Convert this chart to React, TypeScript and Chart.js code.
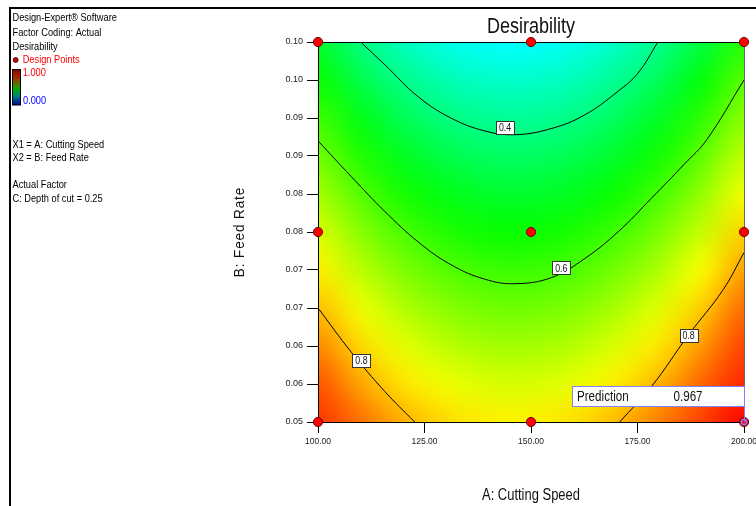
import React, { useEffect, useRef } from 'react';
import { Chart, registerables } from 'chart.js';

Chart.register(...registerables);

// ---------- data ----------
// Response-surface grid (A: Cutting Speed, B: Feed Rate)
const gridCuttingSpeed = [100, 110, 120, 130, 140, 150, 160, 170, 180, 190, 200];
const gridFeedRate = [0.05, 0.055, 0.06, 0.065, 0.07, 0.075, 0.08, 0.085, 0.09, 0.095, 0.1];
// Estimated desirability per feed-rate row (columns follow gridCuttingSpeed)
const dB050 = [0.923, 0.874, 0.819, 0.783, 0.763, 0.761, 0.777, 0.811, 0.862, 0.915, 0.967];
const dB055 = [0.900, 0.828, 0.773, 0.737, 0.717, 0.715, 0.731, 0.765, 0.816, 0.884, 0.936];
const dB060 = [0.854, 0.782, 0.727, 0.691, 0.671, 0.669, 0.685, 0.719, 0.770, 0.838, 0.913];
const dB065 = [0.808, 0.736, 0.681, 0.645, 0.625, 0.623, 0.639, 0.673, 0.724, 0.792, 0.879];
const dB070 = [0.762, 0.690, 0.635, 0.599, 0.579, 0.577, 0.593, 0.627, 0.678, 0.746, 0.833];
const dB075 = [0.716, 0.644, 0.589, 0.553, 0.533, 0.531, 0.547, 0.581, 0.632, 0.700, 0.787];
const dB080 = [0.670, 0.598, 0.543, 0.507, 0.487, 0.485, 0.501, 0.535, 0.586, 0.654, 0.741];
const dB085 = [0.624, 0.552, 0.497, 0.461, 0.441, 0.439, 0.455, 0.489, 0.540, 0.608, 0.695];
const dB090 = [0.578, 0.506, 0.451, 0.415, 0.395, 0.393, 0.409, 0.443, 0.494, 0.562, 0.649];
const dB095 = [0.532, 0.460, 0.405, 0.369, 0.349, 0.347, 0.363, 0.397, 0.448, 0.516, 0.603];
const dB100 = [0.486, 0.414, 0.359, 0.323, 0.303, 0.301, 0.317, 0.351, 0.402, 0.470, 0.557];
const desirabilityRows = [dB050, dB055, dB060, dB065, dB070, dB075, dB080, dB085, dB090, dB095, dB100];

// Design points
const designA = [100, 150, 200, 100, 150, 200, 100, 150, 200];
const designB = [0.1, 0.1, 0.1, 0.075, 0.075, 0.075, 0.05, 0.05, 0.05];

// Contour lines
const c04A = [110.0, 115.7, 123.5, 131.2, 139.1, 146.2, 154.7, 162.6, 170.4, 175.1, 179.8];
const c04B = [0.1, 0.097, 0.0928, 0.09, 0.0883, 0.0878, 0.0886, 0.0904, 0.0935, 0.0959, 0.1];
const c06A = [100, 107.8, 115.7, 123.5, 131.2, 139.1, 146.2, 154.8, 162.6, 170.4, 178.2, 186.1, 191.2, 200];
const c06B = [0.087, 0.0823, 0.0777, 0.0737, 0.0707, 0.0688, 0.0682, 0.069, 0.0715, 0.075, 0.0794, 0.084, 0.0871, 0.095];
const c08LA = [100, 107.8, 115.7, 122.7];
const c08LB = [0.065, 0.0592, 0.054, 0.05];
const c08RA = [170.8, 178.2, 186.9, 195.1, 200];
const c08RB = [0.05, 0.0546, 0.0614, 0.0674, 0.0723];

// Contour labels
const contourLabelText = ['0.4', '0.6', '0.8', '0.8'];
const contourLabelA = [143.9, 157.1, 110.2, 187.0];
const contourLabelB = [0.0888, 0.0703, 0.0581, 0.0614];

// Prediction flag
const predictionA = 200;
const predictionB = 0.05;
const predictionLabel = 'Prediction';
const predictionValue = '0.967';

// Axes
const xTickValues = [100, 125, 150, 175, 200];
const xTickLabels = ['100.00', '125.00', '150.00', '175.00', '200.00'];
const yTickValues = [0.05, 0.055, 0.06, 0.065, 0.07, 0.075, 0.08, 0.085, 0.09, 0.095, 0.1];
const yTickLabels = ['0.05', '0.06', '0.06', '0.07', '0.07', '0.08', '0.08', '0.09', '0.09', '0.10', '0.10'];

const chartTitle = 'Desirability';
const xTitle = 'A: Cutting Speed';
const yTitle = 'B: Feed Rate';

const legendHeader = ['Design-Expert® Software', 'Factor Coding: Actual', 'Desirability'];
const legendPoints = 'Design Points';
const legendHigh = '1.000';
const legendLow = '0.000';
const legendFactors = ['X1 = A: Cutting Speed', 'X2 = B: Feed Rate'];
const legendActual = ['Actual Factor', 'C: Depth of cut = 0.25'];

// Colour map (desirability -> colour)
const colorStopValues = [0.08, 0.3, 0.525, 0.75, 0.97];
const colorStopRGB = [
  [0, 0, 255],
  [0, 255, 255],
  [0, 255, 0],
  [255, 255, 0],
  [255, 0, 0],
];

const FONT = '"Liberation Sans", Arial, sans-serif';

function colorFor(v: number): number[] {
  if (v <= colorStopValues[0]) return colorStopRGB[0];
  for (let i = 1; i < colorStopValues.length; i++) {
    if (v <= colorStopValues[i]) {
      const t = (v - colorStopValues[i - 1]) / (colorStopValues[i] - colorStopValues[i - 1]);
      const a = colorStopRGB[i - 1];
      const b = colorStopRGB[i];
      return [0, 1, 2].map((k) => Math.round(a[k] + (b[k] - a[k]) * t));
    }
  }
  return colorStopRGB[colorStopRGB.length - 1];
}

function txt(
  ctx: CanvasRenderingContext2D,
  s: string,
  x: number,
  y: number,
  size: number,
  color: string,
  align: CanvasTextAlign = 'left',
  sx = 1
) {
  ctx.save();
  ctx.translate(x, y);
  ctx.scale(sx, 1);
  ctx.font = `${size}px ${FONT}`;
  ctx.fillStyle = color;
  ctx.textAlign = align;
  ctx.textBaseline = 'alphabetic';
  ctx.fillText(s, 0, 0);
  ctx.restore();
}

const surfacePlugin = {
  id: 'surface',
  beforeDatasetsDraw(chart: any) {
    const { ctx, chartArea: ca, scales } = chart;
    const xs = scales.x;
    const ys = scales.y;
    const nA = gridCuttingSpeed.length;
    const nB = gridFeedRate.length;
    const off = document.createElement('canvas');
    off.width = nA;
    off.height = nB;
    const octx = off.getContext('2d')!;
    const img = octx.createImageData(nA, nB);
    for (let j = 0; j < nB; j++) {
      const row = nB - 1 - j;
      for (let i = 0; i < nA; i++) {
        const c = colorFor(desirabilityRows[j][i]);
        const k = (row * nA + i) * 4;
        img.data[k] = c[0];
        img.data[k + 1] = c[1];
        img.data[k + 2] = c[2];
        img.data[k + 3] = 255;
      }
    }
    octx.putImageData(img, 0, 0);
    const hA = (gridCuttingSpeed[1] - gridCuttingSpeed[0]) / 2;
    const hB = (gridFeedRate[1] - gridFeedRate[0]) / 2;
    const x0 = xs.getPixelForValue(gridCuttingSpeed[0] - hA);
    const x1 = xs.getPixelForValue(gridCuttingSpeed[nA - 1] + hA);
    const y0 = ys.getPixelForValue(gridFeedRate[nB - 1] + hB);
    const y1 = ys.getPixelForValue(gridFeedRate[0] - hB);
    ctx.save();
    ctx.beginPath();
    ctx.rect(ca.left, ca.top, ca.right - ca.left, ca.bottom - ca.top);
    ctx.clip();
    ctx.imageSmoothingEnabled = true;
    ctx.imageSmoothingQuality = 'high';
    ctx.drawImage(off, x0, y0, x1 - x0, y1 - y0);
    ctx.restore();

    // plot frame
    ctx.save();
    ctx.lineWidth = 1;
    ctx.strokeStyle = '#000';
    ctx.beginPath();
    ctx.moveTo(ca.left, ca.top + 0.5);
    ctx.lineTo(ca.right, ca.top + 0.5);
    ctx.moveTo(ca.left, ca.bottom + 0.5);
    ctx.lineTo(ca.right, ca.bottom + 0.5);
    ctx.moveTo(ca.left + 0.5, ca.top);
    ctx.lineTo(ca.left + 0.5, ca.bottom);
    ctx.stroke();
    ctx.strokeStyle = '#666';
    ctx.beginPath();
    ctx.moveTo(ca.right + 0.5, ca.top);
    ctx.lineTo(ca.right + 0.5, ca.bottom);
    ctx.stroke();
    ctx.restore();
  },
  afterDatasetsDraw(chart: any) {
    const { ctx, scales } = chart;
    const xs = scales.x;
    const ys = scales.y;
    // contour labels
    for (let i = 0; i < contourLabelText.length; i++) {
      const cx = xs.getPixelForValue(contourLabelA[i]);
      const cy = ys.getPixelForValue(contourLabelB[i]);
      const w = 18;
      const h = 13;
      ctx.save();
      ctx.fillStyle = '#fff';
      ctx.strokeStyle = '#333';
      ctx.lineWidth = 1;
      const l = Math.round(cx - w / 2) + 0.5;
      const t = Math.round(cy - h / 2) + 0.5;
      ctx.fillRect(l, t, w, h);
      ctx.strokeRect(l, t, w, h);
      ctx.restore();
      txt(ctx, contourLabelText[i], cx, cy + 4, 11, '#111', 'center', 0.8);
    }
    // prediction flag
    const px = xs.getPixelForValue(predictionA);
    const py = ys.getPixelForValue(predictionB);
    const bw = 172;
    const bh = 20;
    const right = Math.round(px) + 0.5;
    const bottom = Math.round(py) - 16 + 0.5;
    const left = right - bw;
    const top = bottom - bh;
    ctx.save();
    ctx.fillStyle = '#fff';
    ctx.fillRect(left, top, bw, bh);
    ctx.strokeStyle = '#8080ff';
    ctx.lineWidth = 1;
    ctx.strokeRect(left, top, bw, bh);
    ctx.beginPath();
    ctx.moveTo(right, bottom);
    ctx.lineTo(right, py);
    ctx.stroke();
    ctx.restore();
    txt(ctx, predictionLabel, left + 4.5, bottom - 5.5, 14, '#111', 'left', 0.83);
    txt(ctx, predictionValue, left + 101, bottom - 5.5, 14, '#111', 'left', 0.83);
  },
  afterDraw(chart: any) {
    const { ctx, chartArea: ca } = chart;
    // outer frame
    ctx.save();
    ctx.fillStyle = '#000';
    ctx.fillRect(9, 7, 760, 2);
    ctx.fillRect(9, 7, 2, 510);
    ctx.restore();

    const midX = (ca.left + ca.right) / 2;
    txt(ctx, chartTitle, midX, ca.top - 9.3, 22, '#111', 'center', 0.82);
    txt(ctx, xTitle, midX, ca.bottom + 78, 16, '#111', 'center', 0.81);

    ctx.save();
    ctx.translate(ca.left - 73.7, (ca.top + ca.bottom) / 2);
    ctx.rotate(-Math.PI / 2);
    ctx.scale(0.9, 1);
    ctx.font = `15px ${FONT}`;
    (ctx as any).letterSpacing = '1px';
    ctx.fillStyle = '#111';
    ctx.textAlign = 'center';
    ctx.textBaseline = 'alphabetic';
    ctx.fillText(yTitle, 0, 0);
    ctx.restore();

    // left information panel
    const lx = 12.5;
    const ls = 0.88;
    const lf = 10.5;
    txt(ctx, legendHeader[0], lx, 21.3, lf, '#000', 'left', ls);
    txt(ctx, legendHeader[1], lx, 36, lf, '#000', 'left', ls);
    txt(ctx, legendHeader[2], lx, 49.7, lf, '#000', 'left', ls);
    ctx.save();
    ctx.beginPath();
    ctx.arc(15.7, 60, 2.4, 0, Math.PI * 2);
    ctx.fillStyle = '#e00000';
    ctx.fill();
    ctx.strokeStyle = '#400000';
    ctx.lineWidth = 1;
    ctx.stroke();
    ctx.restore();
    txt(ctx, legendPoints, 22.7, 63.3, lf, '#ff0000', 'left', ls);
    // colour bar
    ctx.save();
    const g = ctx.createLinearGradient(0, 69.5, 0, 105);
    g.addColorStop(0, '#8a0000');
    g.addColorStop(0.2, '#b02000');
    g.addColorStop(0.4, '#607000');
    g.addColorStop(0.55, '#00b000');
    g.addColorStop(0.75, '#008080');
    g.addColorStop(1, '#0000a0');
    ctx.fillStyle = g;
    ctx.fillRect(12.5, 69.5, 8, 35.5);
    ctx.strokeStyle = '#000';
    ctx.lineWidth = 1;
    ctx.strokeRect(12.5, 69.5, 8, 35.5);
    ctx.restore();
    txt(ctx, legendHigh, 22.7, 76.3, lf, '#ff0000', 'left', ls);
    txt(ctx, legendLow, 23, 104.3, lf, '#0000ff', 'left', ls);
    txt(ctx, legendFactors[0], lx, 147.7, lf, '#000', 'left', ls);
    txt(ctx, legendFactors[1], lx, 161, lf, '#000', 'left', ls);
    txt(ctx, legendActual[0], lx, 187.7, lf, '#000', 'left', ls);
    txt(ctx, legendActual[1], lx, 202.3, lf, '#000', 'left', ls);
  },
};

function pts(a: number[], b: number[]) {
  return a.map((v, i) => ({ x: v, y: b[i] }));
}

export default function App() {
  const ref = useRef<HTMLCanvasElement | null>(null);

  useEffect(() => {
    if (!ref.current) return;
    const contourStyle = {
      showLine: true,
      pointRadius: 0,
      borderColor: '#000',
      borderWidth: 1,
      tension: 0.4,
      order: 2,
    };
    const chart = new Chart(ref.current, {
      type: 'scatter',
      data: {
        datasets: [
          {
            label: 'Design Points',
            data: pts(designA, designB),
            pointRadius: 4.6,
            pointBackgroundColor: '#ff0000',
            pointBorderColor: '#6a0000',
            pointBorderWidth: 1,
            order: 0,
            clip: false,
          } as any,
          {
            label: 'Prediction',
            data: pts([predictionA], [predictionB]),
            pointRadius: 2.6,
            pointBackgroundColor: 'rgba(0,0,0,0)',
            pointBorderColor: '#7a7aff',
            pointBorderWidth: 1.5,
            order: -1,
            clip: false,
          } as any,
          { label: '0.4', data: pts(c04A, c04B), ...contourStyle } as any,
          { label: '0.6', data: pts(c06A, c06B), ...contourStyle } as any,
          { label: '0.8', data: pts(c08LA, c08LB), ...contourStyle } as any,
          { label: '0.8', data: pts(c08RA, c08RB), ...contourStyle } as any,
        ],
      },
      options: {
        animation: false,
        responsive: false,
        events: [],
        layout: { padding: { top: 42, right: 12, left: 0, bottom: 0 } },
        plugins: {
          legend: { display: false },
          tooltip: { enabled: false },
          title: { display: false },
        },
        scales: {
          x: {
            type: 'linear',
            min: 100,
            max: 200,
            afterBuildTicks: (s: any) => {
              s.ticks = xTickValues.map((v) => ({ value: v }));
            },
            afterFit: (s: any) => {
              s.height = 84;
              s.paddingLeft = 0;
              s.paddingRight = 0;
            },
            ticks: {
              autoSkip: false,
              maxRotation: 0,
              padding: 4,
              color: '#222',
              font: { family: FONT, size: 8.5 },
              callback: (_v: any, i: number) => xTickLabels[i],
            },
            grid: { drawOnChartArea: false, drawTicks: true, tickLength: 11, color: '#000' },
            border: { display: true, color: '#000' },
          },
          y: {
            type: 'linear',
            min: 0.05,
            max: 0.1,
            afterBuildTicks: (s: any) => {
              s.ticks = yTickValues.map((v) => ({ value: v }));
            },
            afterFit: (s: any) => {
              s.width = 318;
              s.paddingTop = 0;
              s.paddingBottom = 0;
            },
            ticks: {
              autoSkip: false,
              padding: 4,
              color: '#222',
              font: { family: FONT, size: 9 },
              callback: (_v: any, i: number) => yTickLabels[i],
            },
            grid: { drawOnChartArea: false, drawTicks: true, tickLength: 11, color: '#000' },
            border: { display: true, color: '#000' },
          },
        },
      } as any,
      plugins: [surfacePlugin],
    });
    return () => chart.destroy();
  }, []);

  return (
    <div style={{ position: 'fixed', left: 0, top: 0, width: 756, height: 506, background: '#fff' }}>
      <canvas ref={ref} width={756} height={506} style={{ display: 'block' }} />
    </div>
  );
}
